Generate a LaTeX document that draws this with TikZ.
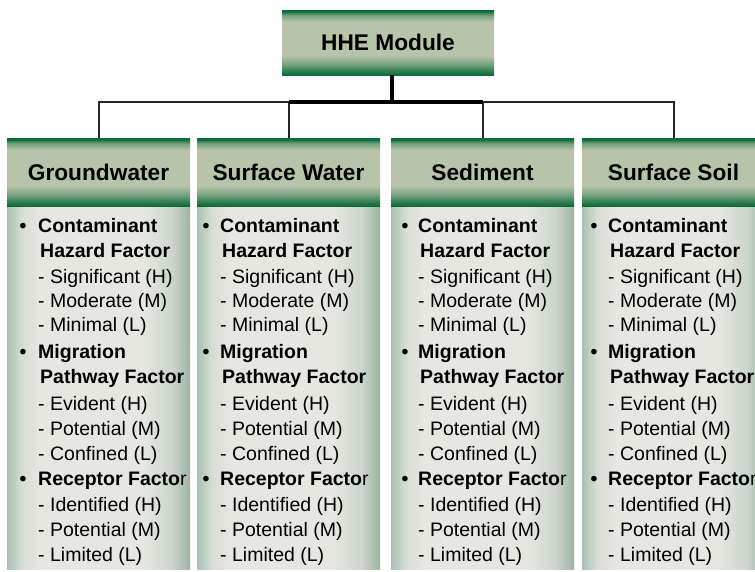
\documentclass[tikz,border=0pt]{standalone}
\usepackage{fontspec}
\setmainfont{Liberation Sans}
\definecolor{hdgreen}{HTML}{0B6B3A}
\definecolor{hdsage}{HTML}{B8C4AA}
\colorlet{hdmixA}{hdgreen!80!hdsage}
\colorlet{hdmixB}{hdgreen!40!hdsage}
\definecolor{bdlight}{HTML}{E6E7E1}
\definecolor{bdleft}{HTML}{A9C1B0}
\definecolor{bdright}{HTML}{9BB6A2}
\colorlet{bdmixL}{bdlight!75!bdleft}
\colorlet{bdmixR}{bdlight!65!bdright}
% header bars: dark green rim at top and bottom, sage in between
\pgfdeclareverticalshading{headshade}{100bp}{color(0bp)=(hdgreen); color(25bp)=(hdgreen); color(28bp)=(hdmixA); color(33bp)=(hdmixB); color(40bp)=(hdsage); color(66bp)=(hdsage); color(71bp)=(hdmixB); color(74bp)=(hdgreen); color(100bp)=(hdgreen)}
% list panels: greenish edges, pale centre
\pgfdeclarehorizontalshading{bodyshade}{100bp}{color(0bp)=(bdleft); color(25bp)=(bdleft); color(29bp)=(bdmixL); color(34bp)=(bdlight); color(62bp)=(bdlight); color(70bp)=(bdmixR); color(75bp)=(bdright); color(100bp)=(bdright)}
\tikzset{
  headbox/.style={rectangle, shade, shading=headshade, inner sep=0pt,
    minimum width=183pt, minimum height=68pt,
    font=\fontsize{22.7}{27}\selectfont\bfseries, text=black},
  topbox/.style={headbox, minimum width=212pt, minimum height=65pt},
  panel/.style={rectangle, shade, shading=bodyshade, inner sep=0pt,
    minimum width=183pt, minimum height=363pt},
  itembold/.style={anchor=base west, inner sep=0pt,
    font=\fontsize{19.5}{23}\selectfont\bfseries, text=black},
  itemplain/.style={anchor=base west, inner sep=0pt,
    font=\fontsize{19.5}{23}\selectfont, text=black},
  bulletmark/.style={anchor=base, inner sep=0pt,
    font=\fontsize{19.5}{23}\selectfont\bfseries, text=black},
  trunk/.style={line width=4pt, black},
  branch/.style={line width=2pt, black!85},
}
\begin{document}
\begin{tikzpicture}[x=1pt, y=-1pt]
\useasboundingbox (0,0) rectangle (755,571);
\clip (0,0) rectangle (755,571);
\fill[white] (0,0) rectangle (755,571);

% module box
\node[topbox] (hhe) at (388,42.5) {HHE Module};

% media headers and their panels
\foreach \cx/\name [count=\k] in {98.5/Groundwater, 288.5/Surface Water, 482.5/Sediment, 673.5/Surface Soil}{
  \node[panel] (b\k) at (\cx,387.5) {};
  \node[headbox] (h\k) at (\cx,172) {\name};
}

% connectors
\coordinate (bus) at (392,102);
\draw[branch] (h1.north) |- (h2.north |- bus) -- (h2.north);
\draw[branch] (h4.north) |- (h3.north |- bus) -- (h3.north);
\draw[trunk] (bus |- hhe.south) -- (bus);
\draw[trunk] (h2.north |- bus) -- (h3.north |- bus);

% factor lists
\foreach \bx/\tx [count=\k] in {23/38, 206/220, 405/418, 594/608}{
  \foreach \yy in {232, 358, 485}
    \node[bulletmark] (u\k-\yy) at (\bx,\yy) {•};
  \foreach \yy/\dx/\txt in {232/0/Contaminant, 257/2/Hazard Factor,
      358/0/Migration, 383/2/Pathway Factor,
      485/0/{Receptor Facto{\mdseries r}}}
    \node[itembold] (f\k-\yy) at (\tx+\dx,\yy) {\txt};
  \foreach \yy/\txt in {283/- Significant (H), 307/- Moderate (M), 331/- Minimal (L),
      410/- Evident (H), 435/- Potential (M), 460/- Confined (L),
      511/- Identified (H), 536/- Potential (M), 561/- Limited (L)}
    \node[itemplain] (v\k-\yy) at (\tx,\yy) {\txt};
}
\end{tikzpicture}
\end{document}
